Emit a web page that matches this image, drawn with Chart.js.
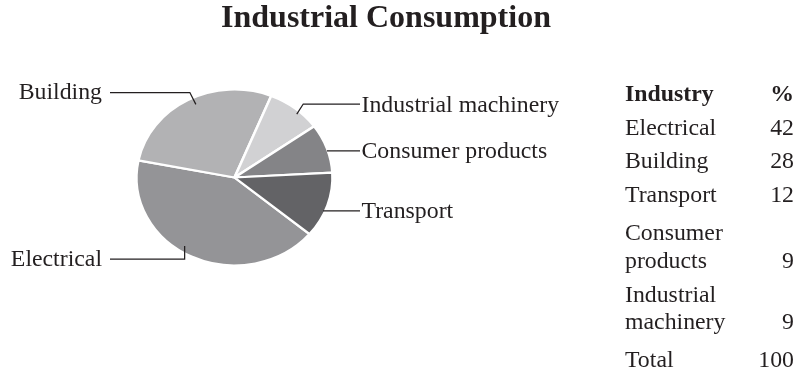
<!DOCTYPE html>
<html>
<head>
<meta charset="utf-8">
<title>Industrial Consumption</title>
<script src="https://cdn.jsdelivr.net/npm/chart.js@4/dist/chart.umd.min.js"></script>
<style>
  html, body { margin: 0; padding: 0; background: #fff; }
  #consumption { display: block; }
</style>
</head>
<body>
<canvas id="consumption" width="798" height="369"></canvas>
<script>
const chartTitle = 'Industrial Consumption';
const industries = ['Electrical', 'Building', 'Transport', 'Consumer products', 'Industrial machinery'];
const shares = [42, 28, 12, 9, 9];
const tableHeaders = ['Industry', '%'];
const totalLabel = 'Total';

// slices run clockwise in this order, Electrical starting just below the right side
const pieOrder = ['Electrical', 'Building', 'Industrial machinery', 'Consumer products', 'Transport'];

const INK = '#231f20';
const SERIF = '"Liberation Serif", "Times New Roman", serif';
const BODY_FONT = '23.8px ' + SERIF;
const PIE_SQUASH = 88 / 98;   // pie is drawn a little flatter than a circle

const sliceColors = {
  'Electrical': '#949497',
  'Building': '#b2b2b4',
  'Industrial machinery': '#d1d1d3',
  'Consumer products': '#848487',
  'Transport': '#636366'
};

// where each callout leaves its slice and where its text sits
const callouts = {
  'Electrical':           { t: 0.55, rf: 0.93, side: 'left',  lineY: 259,  bend: 0 },
  'Building':             { t: 0.53, rf: 0.92, side: 'left',  lineY: 92.5, bend: -6 },
  'Industrial machinery': { t: 0.60, rf: 0.96, side: 'right', lineY: 104,  bend: 6.5 },
  'Consumer products':    { t: 0.55, rf: 0.99, side: 'right', lineY: null, bend: 0 },
  'Transport':            { t: 0.60, rf: 0.98, side: 'right', lineY: null, bend: 0 }
};

const pieValues = pieOrder.map(name => shares[industries.indexOf(name)]);

const squashPie = {
  id: 'squashPie',
  beforeDatasetsDraw(chart) {
    const arc = chart.getDatasetMeta(0).data[0];
    const ctx = chart.ctx;
    ctx.save();
    ctx.translate(arc.x, arc.y);
    ctx.scale(1, PIE_SQUASH);
    ctx.translate(-arc.x, -arc.y);
  },
  afterDatasetsDraw(chart) {
    chart.ctx.restore();
  }
};

function drawTitle(ctx) {
  ctx.font = 'bold 32px ' + SERIF;
  ctx.textAlign = 'center';
  ctx.textBaseline = 'alphabetic';
  ctx.fillText(chartTitle, 386, 27);
}

function drawCallouts(chart) {
  const ctx = chart.ctx;
  const arcs = chart.getDatasetMeta(0).data;
  ctx.strokeStyle = INK;
  ctx.lineWidth = 1.25;
  ctx.font = BODY_FONT;
  ctx.textBaseline = 'alphabetic';

  arcs.forEach((arc, i) => {
    const name = chart.data.labels[i];
    const c = callouts[name];
    const a = arc.startAngle + c.t * (arc.endAngle - arc.startAngle);
    const r = c.rf * arc.outerRadius;
    const ax = arc.x + r * Math.cos(a);
    const ay = arc.y + PIE_SQUASH * r * Math.sin(a);
    const ly = c.lineY === null ? ay : c.lineY;
    const endX = c.side === 'left' ? 110 : 360;

    ctx.beginPath();
    ctx.moveTo(ax, ay);
    ctx.lineTo(ax + c.bend, ly);
    ctx.lineTo(endX, ly);
    ctx.stroke();

    if (c.side === 'left') {
      ctx.textAlign = 'right';
      ctx.fillText(name, 102, ly + 6.5);
    } else {
      ctx.textAlign = 'left';
      ctx.fillText(name, 361.5, ly + 7.5);
    }
  });
}

function drawTable(ctx) {
  const left = 625, right = 794;
  const rowPitch = 33.6, lineHeight = 27.5;
  let y = 101;

  ctx.textBaseline = 'alphabetic';
  ctx.font = 'bold 23.8px ' + SERIF;
  ctx.textAlign = 'left';
  ctx.fillText(tableHeaders[0], left, y);
  ctx.textAlign = 'right';
  ctx.fillText(tableHeaders[1], right, y);

  ctx.font = BODY_FONT;
  let prevLines = 1;
  industries.forEach((name, i) => {
    const lines = name.split(' ');
    y += rowPitch;
    if (lines.length > 1 && prevLines === 1) y += 5;
    ctx.textAlign = 'left';
    lines.forEach((line, k) => {
      ctx.fillText(line, left, y + k * lineHeight);
    });
    y += (lines.length - 1) * lineHeight;
    ctx.textAlign = 'right';
    ctx.fillText(String(shares[i]), right, y);
    prevLines = lines.length;
  });

  const total = shares.reduce((s, v) => s + v, 0);
  y += rowPitch + 4.5;
  ctx.textAlign = 'left';
  ctx.fillText(totalLabel, left, y);
  ctx.textAlign = 'right';
  ctx.fillText(String(total), right, y);
}

const annotations = {
  id: 'annotations',
  afterDraw(chart) {
    const ctx = chart.ctx;
    ctx.save();
    ctx.fillStyle = INK;
    drawTitle(ctx);
    drawCallouts(chart);
    drawTable(ctx);
    ctx.restore();
  }
};

new Chart(document.getElementById('consumption'), {
  type: 'pie',
  data: {
    labels: pieOrder,
    datasets: [{
      data: pieValues,
      backgroundColor: pieOrder.map(n => sliceColors[n]),
      borderColor: '#ffffff',
      borderWidth: 2.5,
      radius: 98,
      clip: false
    }]
  },
  options: {
    responsive: false,
    animation: false,
    events: [],
    rotation: 130,
    layout: { padding: { left: 10, right: 339, top: 50, bottom: 64 } },
    plugins: {
      legend: { display: false },
      tooltip: { enabled: false },
      title: { display: false }
    }
  },
  plugins: [squashPie, annotations]
});
</script>
</body>
</html>
